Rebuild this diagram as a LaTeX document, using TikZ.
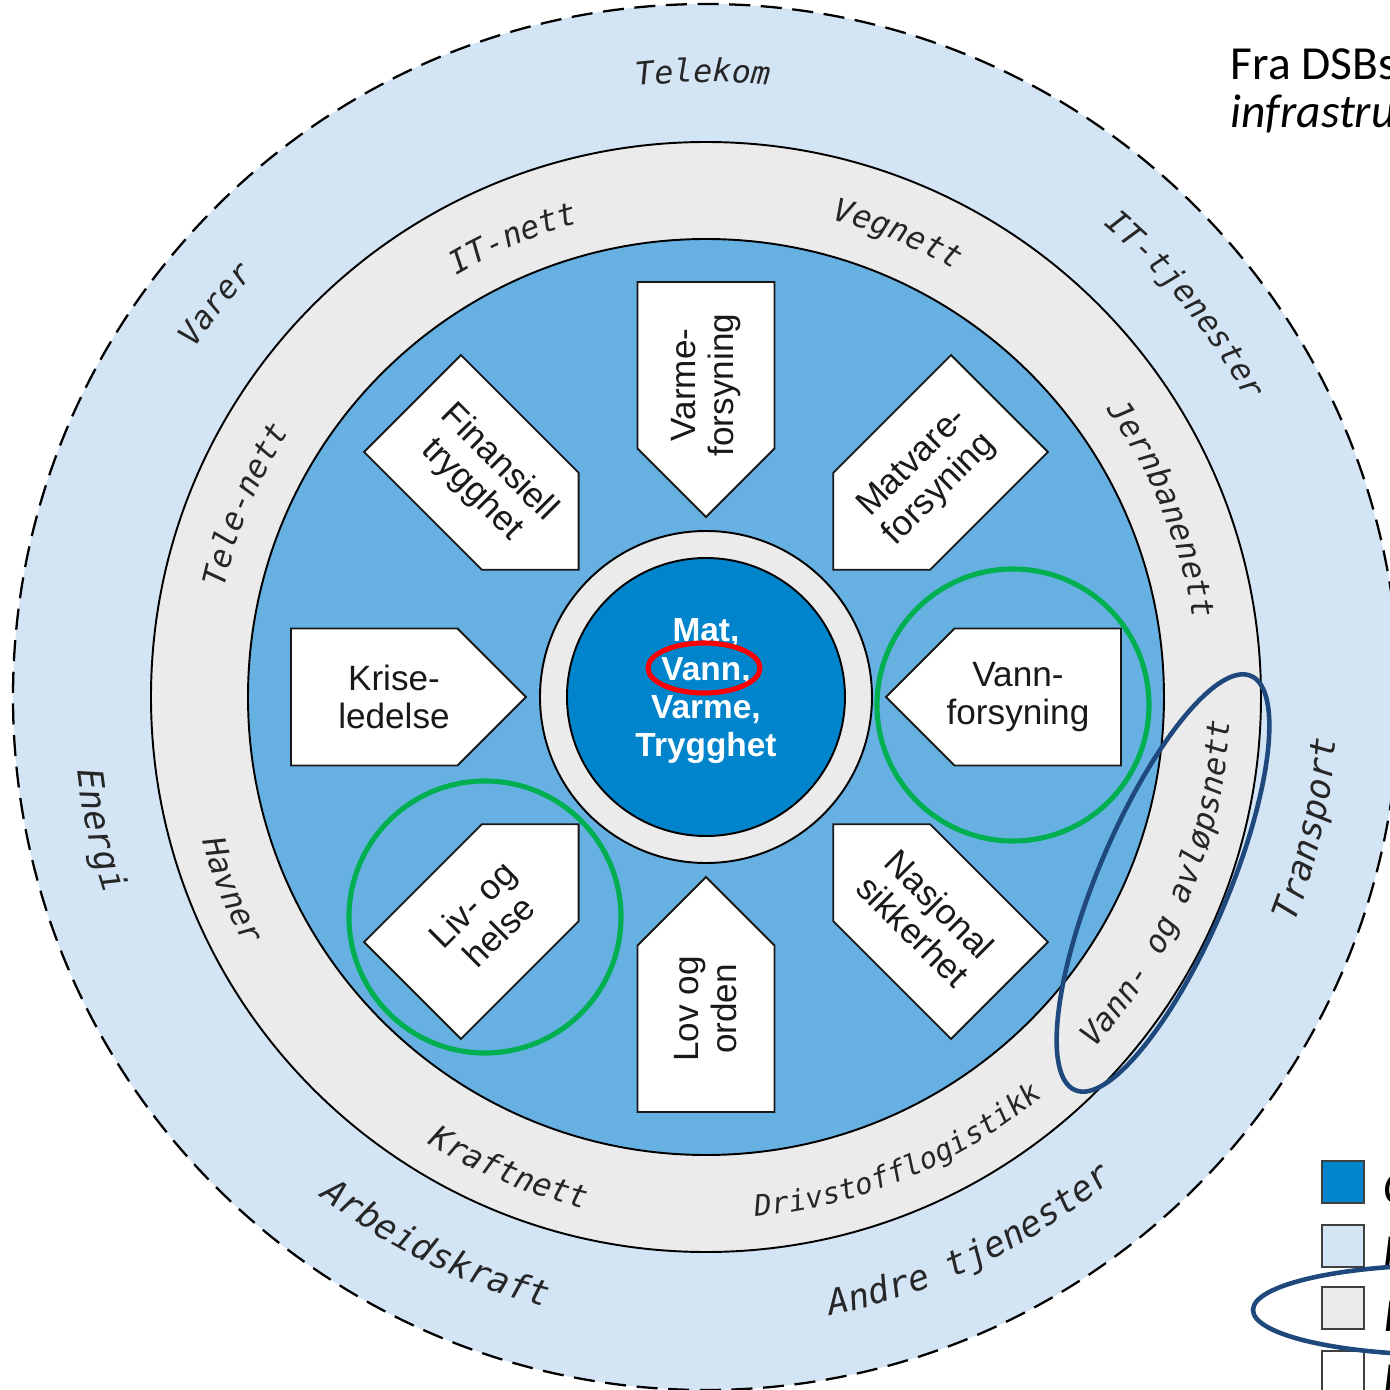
\documentclass[tikz,border=0pt]{standalone}
\usepackage{fontspec}
\usepackage{xcolor}
\setmainfont{Liberation Sans}
\newfontfamily\ringmono{DejaVu Sans Mono}
\newfontfamily\notefont{Carlito}
\usetikzlibrary{decorations.text}

\definecolor{outerblue}{HTML}{D3E4F5}
\definecolor{ringgray}{HTML}{EBEBEB}
\definecolor{midblue}{HTML}{66B0E2}
\definecolor{coreblue}{HTML}{0084CC}
\definecolor{markgreen}{HTML}{00B050}
\definecolor{markblue}{HTML}{1F497D}

\newcommand{\ringtxt}{\color{black!85}\ringmono\itshape\fontsize{9}{11}\selectfont}
\newcommand{\ringtxtwide}{\color{black!85}\ringmono\itshape\fontsize{10}{12}\selectfont}
\newcommand{\ringtxtnarrow}{\color{black!85}\ringmono\itshape\fontsize{8.3}{10}\selectfont}

\tikzstyle{ring} = [draw=black, line width=0.55pt]
\tikzstyle{sector} = [draw=black!90, line width=0.55pt, fill=white]
\tikzstyle{sectortext} = [align=center, inner sep=0pt, text=black!90, font=\fontsize{10}{10.8}\selectfont]
\tikzstyle{coretext} = [align=center, inner sep=0pt, text=white, font=\bfseries\fontsize{9.5}{10.9}\selectfont]
\tikzstyle{greenmark} = [draw=markgreen, line width=1.45pt]
\tikzstyle{bluemark} = [draw=markblue, line width=1.3pt]
\tikzstyle{legendbox} = [draw=black!75, line width=0.5pt]
\tikzstyle{legendtext} = [anchor=base west, inner sep=0pt, font=\notefont\itshape\fontsize{13.5}{16}\selectfont]
\tikzset{ringlabel/.style 2 args={decorate, decoration={text along path, text align=center, text={|#1|#2}}}}

\begin{document}
\begin{tikzpicture}[x=0.01cm, y=0.01cm]
\useasboundingbox (-706,-693) rectangle (684,697);
\clip (-706,-693) rectangle (684,697);

% Rings
\draw[fill=outerblue, dash pattern=on 6pt off 3pt, line width=0.65pt] (0,0) circle[radius=693];
\draw[ring, fill=ringgray] (0,0) circle[radius=555];
\draw[ring, fill=midblue] (0,0) circle[radius=458];

% Sectors
\foreach \ang in {0,45,...,315}
  \draw[sector, rotate=\ang] (180,0) -- (248.5,68.5) -- (415,68.5) -- (415,-68.5) -- (248.5,-68.5) -- cycle;

% Core
\draw[ring, fill=ringgray] (0,0) circle[radius=166];
\draw[ring, fill=coreblue] (0,0) circle[radius=139];
\node[coretext] (core) at (0,5.5) {Mat,\\Vann,\\Varme,\\Trygghet};

% Sector labels
\node[sectortext] (vann) at (0:312) {Vann-\\forsyning};
\node[sectortext, rotate=45] (matvare) at (45:312) {Matvare-\\forsyning};
\node[sectortext, rotate=90] (varme) at (90:312) {Varme-\\forsyning};
\node[sectortext, rotate=-45] (finans) at (135:312) {Finansiell\\trygghet};
\node[sectortext] (krise) at (180:312) {Krise-\\ledelse};
\node[sectortext, rotate=45] (liv) at (225:312) {Liv- og\\helse};
\node[sectortext, rotate=90] (lov) at (270:312) {Lov og\\orden};
\node[sectortext, rotate=-45] (nasjonal) at (315:312) {Nasjonal\\sikkerhet};

% Outer ring labels
\path[ringlabel={\ringtxt}{Telekom}] (140.3:615) arc[start angle=140.3, end angle=40.3, radius=615];
\path[ringlabel={\ringtxt}{Varer}] (191.3:619) arc[start angle=191.3, end angle=91.3, radius=619];
\path[ringlabel={\ringtxt}{IT-tjenester}] (89.3:617) arc[start angle=89.3, end angle=-10.7, radius=617];
\path[ringlabel={\ringtxtwide}{Energi}] (142.4:633) arc[start angle=142.4, end angle=242.4, radius=633];
\path[ringlabel={\ringtxtwide}{Arbeidskraft}] (193.8:631) arc[start angle=193.8, end angle=293.8, radius=631];
\path[ringlabel={\ringtxtwide}{Andre tjenester}] (245.8:631) arc[start angle=245.8, end angle=345.8, radius=631];
\path[ringlabel={\ringtxtwide}{Transport}] (297.6:631) arc[start angle=297.6, end angle=397.6, radius=631];

% Inner ring labels
\path[ringlabel={\ringtxt}{IT-nett}] (162.8:490) arc[start angle=162.8, end angle=62.8, radius=490];
\path[ringlabel={\ringtxt}{Vegnett}] (117.5:494) arc[start angle=117.5, end angle=17.5, radius=494];
\path[ringlabel={\ringtxt}{Jernbanenett}] (72.4:493) arc[start angle=72.4, end angle=-27.6, radius=493];
\path[ringlabel={\ringtxt}{Tele-nett}] (207.4:494) arc[start angle=207.4, end angle=107.4, radius=494];
\path[ringlabel={\ringtxt}{Vann- og avløpsnett}] (287.6:524) arc[start angle=287.6, end angle=387.6, radius=524];
\path[ringlabel={\ringtxtnarrow}{Drivstofflogistikk}] (242.8:522) arc[start angle=242.8, end angle=342.8, radius=522];
\path[ringlabel={\ringtxt}{Kraftnett}] (197.4:526) arc[start angle=197.4, end angle=297.4, radius=526];
\path[ringlabel={\ringtxt}{Havner}] (152.2:524) arc[start angle=152.2, end angle=252.2, radius=524];

% Highlights
\draw[line width=1.45pt, red] (-2,29) ellipse[x radius=56, y radius=25];
\draw[greenmark] (307,-8) circle[radius=136];
\draw[greenmark] (-221,-220) circle[radius=136];
\draw[bluemark, rotate around={67:(457,-186)}] (457,-186) ellipse[x radius=225, y radius=65];

% Source
\node[anchor=base west, inner sep=0pt, font=\notefont\fontsize{13.5}{16}\selectfont] (source) at (524,617) {Fra DSBs};
\node[legendtext] (sourcetitle) at (524,569) {infrastru};

% Legend
\draw[legendbox, fill=coreblue] (616,-464) rectangle (658,-506);
\draw[legendbox, fill=outerblue] (616,-528) rectangle (658,-570);
\draw[legendbox, fill=ringgray] (616,-590) rectangle (658,-632);
\draw[legendbox, fill=white] (616,-654) rectangle (658,-696);
\node[legendtext] (leg1) at (677,-506) {C};
\node[legendtext] (leg2) at (677,-570) {K};
\node[legendtext] (leg3) at (677,-634) {I};
\node[legendtext] (leg4) at (677,-698) {K};
\draw[bluemark] (742,-613) ellipse[x radius=195, y radius=45];

\end{tikzpicture}
\end{document}
